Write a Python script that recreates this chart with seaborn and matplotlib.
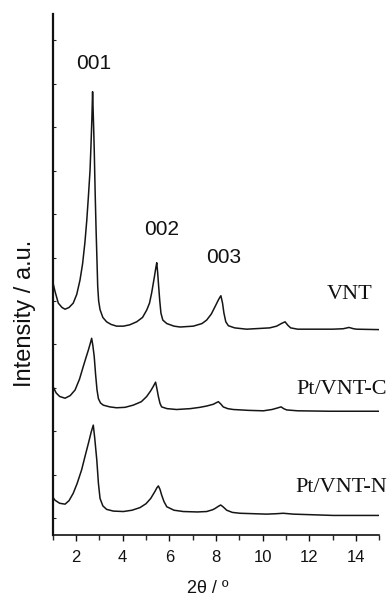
import matplotlib
matplotlib.use("Agg")
import matplotlib.pyplot as plt
import seaborn as sns
import pandas as pd
from matplotlib.ticker import MultipleLocator

# ---- data (2theta in degrees, intensity in a.u. incl. offset) ----
vnt_x = [1.02, 1.10, 1.24, 1.40, 1.53, 1.70, 1.88, 2.03, 2.17, 2.28, 2.38, 2.46, 2.53, 2.60,
         2.64, 2.68, 2.71, 2.75, 2.78, 2.82, 2.86, 2.90, 2.93, 2.97, 3.03, 3.15, 3.31, 3.50,
         3.74, 4.03, 4.30, 4.60, 4.85, 5.03, 5.15, 5.24, 5.31, 5.36, 5.42, 5.46, 5.50, 5.54,
         5.59, 5.64, 5.72, 5.89, 6.20, 6.46, 7.03, 7.40, 7.60, 7.80, 7.96, 8.08, 8.16, 8.21,
         8.28, 8.34, 8.42, 8.53, 8.80, 9.31, 10.30, 10.60, 10.80, 10.96, 11.08, 11.20, 11.50,
         12.17, 13.00, 13.45, 13.70, 13.90, 14.03, 15.00]
vnt_y = [5.40, 5.22, 4.95, 4.85, 4.81, 4.85, 4.95, 5.15, 5.48, 5.85, 6.34, 6.85, 7.40, 8.00,
         8.56, 9.20, 9.82, 9.10, 8.50, 7.50, 6.64, 5.90, 5.33, 5.00, 4.80, 4.62, 4.52, 4.46,
         4.42, 4.42, 4.45, 4.52, 4.62, 4.79, 4.95, 5.18, 5.40, 5.56, 5.76, 5.88, 5.65, 5.35,
         5.00, 4.72, 4.56, 4.48, 4.42, 4.40, 4.42, 4.48, 4.56, 4.70, 4.87, 5.00, 5.08, 5.12,
         4.95, 4.72, 4.52, 4.43, 4.38, 4.35, 4.38, 4.42, 4.48, 4.52, 4.44, 4.38, 4.35,
         4.35, 4.35, 4.36, 4.39, 4.36, 4.35, 4.34]

ptc_x = [1.02, 1.15, 1.30, 1.53, 1.75, 1.96, 2.15, 2.31, 2.43, 2.53, 2.61, 2.67, 2.72, 2.78,
         2.84, 2.90, 2.96, 3.05, 3.17, 3.45, 3.74, 4.10, 4.45, 4.80, 5.03, 5.20, 5.31, 5.41,
         5.46, 5.53, 5.60, 5.67, 5.90, 6.31, 6.90, 7.31, 7.60, 7.88, 8.10, 8.20, 8.31, 8.50,
         8.74, 9.40, 10.03, 10.40, 10.60, 10.79, 10.90, 11.03, 11.50, 12.88, 15.00]
ptc_y = [3.02, 2.88, 2.80, 2.76, 2.82, 2.95, 3.20, 3.49, 3.70, 3.87, 4.02, 4.14, 3.98, 3.72,
         3.30, 2.95, 2.75, 2.65, 2.60, 2.56, 2.54, 2.55, 2.60, 2.68, 2.80, 2.93, 3.03, 3.13,
         3.00, 2.80, 2.64, 2.56, 2.52, 2.50, 2.52, 2.55, 2.58, 2.62, 2.68, 2.63, 2.56, 2.52,
         2.50, 2.48, 2.47, 2.50, 2.53, 2.56, 2.52, 2.49, 2.47, 2.46, 2.46]

ptn_x = [1.02, 1.10, 1.30, 1.53, 1.70, 1.88, 2.05, 2.24, 2.40, 2.53, 2.65, 2.74, 2.80, 2.89,
         2.96, 3.03, 3.15, 3.31, 3.60, 4.03, 4.40, 4.74, 5.00, 5.20, 5.38, 5.47, 5.53, 5.60,
         5.67, 5.77, 5.89, 6.20, 6.60, 7.20, 7.60, 7.85, 7.96, 8.10, 8.20, 8.30, 8.46, 8.70,
         9.03, 10.17, 10.60, 10.88, 11.10, 11.31, 13.03, 15.00]
ptn_y = [0.47, 0.41, 0.34, 0.32, 0.40, 0.57, 0.80, 1.11, 1.45, 1.72, 1.98, 2.14, 1.85, 1.34,
         0.80, 0.45, 0.28, 0.20, 0.16, 0.15, 0.18, 0.24, 0.33, 0.45, 0.61, 0.70, 0.74, 0.66,
         0.53, 0.38, 0.26, 0.18, 0.15, 0.14, 0.15, 0.19, 0.22, 0.27, 0.30, 0.26, 0.18, 0.13,
         0.11, 0.09, 0.10, 0.11, 0.10, 0.09, 0.06, 0.06]

sample_names = ["VNT", "Pt/VNT-C", "Pt/VNT-N"]
sample_label_y = [5.14, 2.97, 0.71]
sample_label_x = [14.69, 15.33, 15.33]

peak_labels = ["001", "002", "003"]
peak_label_x = [2.77, 5.65, 8.31]
peak_label_y = [10.48, 6.64, 6.00]

x_ticks = [2, 4, 6, 8, 10, 12, 14]

# ---- build table ----
frames = []
for name, xs, ys in zip(sample_names, [vnt_x, ptc_x, ptn_x], [vnt_y, ptc_y, ptn_y]):
    frames.append(pd.DataFrame({"two_theta": xs, "intensity": ys, "sample": name}))
df = pd.concat(frames, ignore_index=True)

sns.set_style("white")
plt.rcParams["font.family"] = ["Liberation Sans", "DejaVu Sans"]

fig = plt.figure(figsize=(3.88, 5.98), dpi=100)
ax = fig.add_axes([0.1358, 0.1054, 0.8418, 0.8712])

for name in sample_names:
    sub = df[df["sample"] == name]
    sns.lineplot(data=sub, x="two_theta", y="intensity", ax=ax, color="#151515",
                 linewidth=1.1, estimator=None, sort=False, legend=False)

ax.set_xlim(1, 15)
ax.set_ylim(-0.39, 11.61)

for s in ["top", "right"]:
    ax.spines[s].set_visible(False)
ax.spines["left"].set_linewidth(1.6)
ax.spines["bottom"].set_linewidth(1.2)
ax.spines["left"].set_color("#111111")
ax.spines["bottom"].set_color("#111111")

ax.set_xticks(x_ticks)
ax.set_xticklabels([str(t) for t in x_ticks])
ax.xaxis.set_minor_locator(MultipleLocator(1))
ax.tick_params(axis="x", which="major", direction="out", length=4.5, width=1.0,
               labelsize=12, pad=6, colors="#111111", bottom=True)
ax.tick_params(axis="x", which="minor", direction="out", length=3.5, width=1.0,
               bottom=True)
ax.yaxis.set_major_locator(MultipleLocator(1))
ax.set_yticklabels([])
ax.tick_params(axis="y", which="major", direction="in", length=2.5, width=0.8,
               left=True, labelleft=False)
ax.set_xlabel("")
ax.set_ylabel("")

for lab, lx, ly in zip(peak_labels, peak_label_x, peak_label_y):
    ax.text(lx, ly, lab, ha="center", va="center", fontsize=15, color="#111111")

for name, lx, ly in zip(sample_names, sample_label_x, sample_label_y):
    ax.text(lx, ly, name, ha="right", va="center", fontsize=16, color="#111111",
            family=["Liberation Serif", "DejaVu Serif"], clip_on=False)

fig.text(0.0644, 0.4766, "Intensity / a.u.", rotation=90, ha="center", va="center",
         fontsize=17, color="#111111")
fig.text(0.536, 0.009, "2θ / º", ha="center", va="baseline", fontsize=13, color="#111111")

fig.savefig("out.png", dpi=100)
